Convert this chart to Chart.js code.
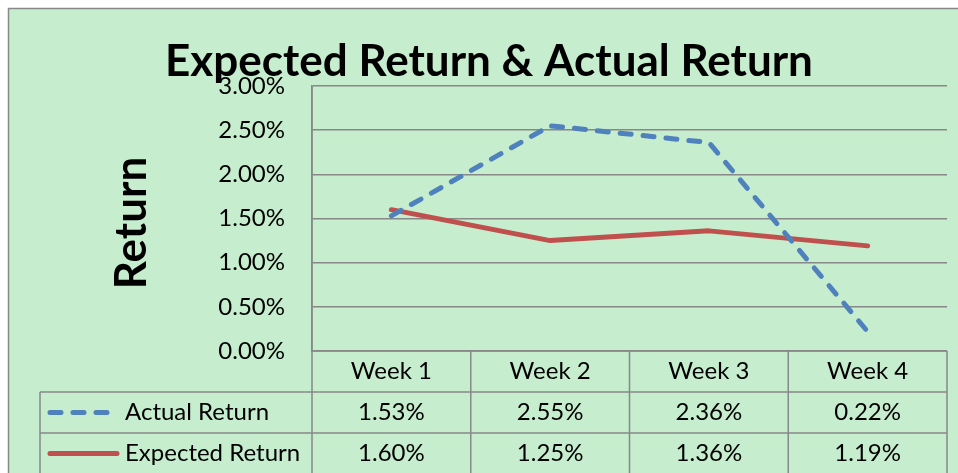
<!DOCTYPE html>
<html>
<head>
<meta charset="utf-8">
<script src="https://cdn.jsdelivr.net/npm/chart.js@4/dist/chart.umd.min.js"></script>
<style>
  html, body { margin: 0; padding: 0; background: #ffffff; }
  #wrap { width: 958px; height: 473px; }
</style>
</head>
<body>
<div id="wrap"><canvas id="c" width="958" height="473"></canvas></div>
<script>
const chartTitle = 'Expected Return & Actual Return';
const yAxisTitle = 'Return';
const categories = ['Week 1', 'Week 2', 'Week 3', 'Week 4'];
const actualLabel = 'Actual Return';
const expectedLabel = 'Expected Return';
const actualReturn = [1.53, 2.55, 2.36, 0.22];
const expectedReturn = [1.60, 1.25, 1.36, 1.19];
const yTicks = [0, 0.5, 1.0, 1.5, 2.0, 2.5, 3.0];

const BG = '#C6EDCD';
const GRID = '#888888';
const BLUE = '#4F81BD';
const RED = '#C0504D';
const FONT = 'Lato, "Open Sans", sans-serif';
const fmt = v => v.toFixed(2) + '%';

const decor = {
  id: 'decor',
  beforeDraw(chart) {
    const ctx = chart.ctx;
    ctx.save();
    ctx.fillStyle = '#ffffff';
    ctx.fillRect(0, 0, chart.width, chart.height);
    ctx.fillStyle = BG;
    ctx.fillRect(8, 8, chart.width - 8, chart.height - 8);
    ctx.strokeStyle = GRID;
    ctx.lineWidth = 1.5;
    ctx.beginPath();
    ctx.moveTo(8.5, chart.height);
    ctx.lineTo(8.5, 8.5);
    ctx.lineTo(chart.width, 8.5);
    ctx.stroke();
    ctx.restore();
  },
  afterDraw(chart) {
    const ctx = chart.ctx;
    const x = chart.scales.x;
    const a = chart.chartArea;
    const colW = (a.right - a.left) / categories.length;
    const rowH = 41;
    const headTop = a.bottom;
    const r1 = headTop + rowH;
    const r2 = r1 + rowH;
    const legendLeft = 40;
    ctx.save();
    // Title
    ctx.fillStyle = '#000';
    ctx.font = 'bold 44px ' + FONT;
    ctx.textAlign = 'center';
    ctx.textBaseline = 'alphabetic';
    ctx.fillText(chartTitle, 489, 76);
    // Y title
    ctx.save();
    ctx.translate(146, 223);
    ctx.rotate(-Math.PI / 2);
    ctx.textBaseline = 'alphabetic';
    ctx.font = 'bold 44px ' + FONT;
    ctx.fillText(yAxisTitle, 0, 0);
    ctx.restore();
    // Table lines
    ctx.strokeStyle = GRID;
    ctx.lineWidth = 1.5;
    ctx.beginPath();
    ctx.moveTo(a.left, a.top); ctx.lineTo(a.left, chart.height);
    for (let i = 1; i <= categories.length; i++) {
      const bx = a.left + colW * i;
      ctx.moveTo(bx, headTop); ctx.lineTo(bx, chart.height);
    }
    ctx.moveTo(a.left, headTop); ctx.lineTo(a.right, headTop);
    ctx.moveTo(legendLeft, r1); ctx.lineTo(a.right, r1);
    ctx.moveTo(legendLeft, r2); ctx.lineTo(a.right, r2);
    ctx.moveTo(legendLeft, r1); ctx.lineTo(legendLeft, chart.height);
    ctx.stroke();
    // Table texts
    ctx.font = '24px ' + FONT;
    ctx.fillStyle = '#000';
    ctx.textAlign = 'center';
    ctx.textBaseline = 'middle';
    categories.forEach((c, i) => {
      const cx = x.getPixelForValue(i);
      ctx.fillText(c, cx, headTop + rowH / 2);
      ctx.fillText(fmt(actualReturn[i]), cx, r1 + rowH / 2);
      ctx.fillText(fmt(expectedReturn[i]), cx, r2 + rowH / 2);
    });
    // legend keys
    ctx.lineCap = 'round';
    ctx.lineWidth = 5;
    ctx.strokeStyle = BLUE;
    ctx.setLineDash([11, 12]);
    ctx.beginPath();
    ctx.moveTo(50, r1 + rowH / 2); ctx.lineTo(110, r1 + rowH / 2);
    ctx.stroke();
    ctx.setLineDash([]);
    ctx.strokeStyle = RED;
    ctx.beginPath();
    ctx.moveTo(50, r2 + rowH / 2); ctx.lineTo(117, r2 + rowH / 2);
    ctx.stroke();
    ctx.textAlign = 'left';
    ctx.fillText(actualLabel, 125, r1 + rowH / 2);
    ctx.fillText(expectedLabel, 125, r2 + rowH / 2);
    ctx.restore();
  }
};

new Chart(document.getElementById('c'), {
  type: 'line',
  data: {
    labels: categories,
    datasets: [
      {
        label: actualLabel,
        data: actualReturn,
        borderColor: BLUE,
        borderWidth: 5,
        borderDash: [11, 12],
        borderCapStyle: 'round',
        borderJoinStyle: 'round',
        pointRadius: 0,
        tension: 0,
        fill: false
      },
      {
        label: expectedLabel,
        data: expectedReturn,
        borderColor: RED,
        borderWidth: 5,
        borderCapStyle: 'round',
        borderJoinStyle: 'round',
        pointRadius: 0,
        tension: 0,
        fill: false
      }
    ]
  },
  options: {
    responsive: false,
    animation: false,
    devicePixelRatio: 1,
    layout: { padding: { top: 86, right: 11, bottom: 122, left: 0 } },
    plugins: {
      legend: { display: false },
      title: { display: false },
      tooltip: { enabled: false }
    },
    scales: {
      x: {
        display: false,
        offset: true
      },
      y: {
        min: yTicks[0],
        max: yTicks[yTicks.length - 1],
        afterFit(s) { s.width = 312; },
        afterBuildTicks(s) { s.ticks = yTicks.map(v => ({ value: v })); },
        ticks: {
          padding: 27,
          color: '#000',
          font: { family: FONT, size: 24 },
          callback: v => fmt(v)
        },
        grid: { color: GRID, lineWidth: 1.5, drawTicks: false },
        border: { display: true, color: GRID, width: 1.5 }
      }
    }
  },
  plugins: [decor]
});
</script>
</body>
</html>
